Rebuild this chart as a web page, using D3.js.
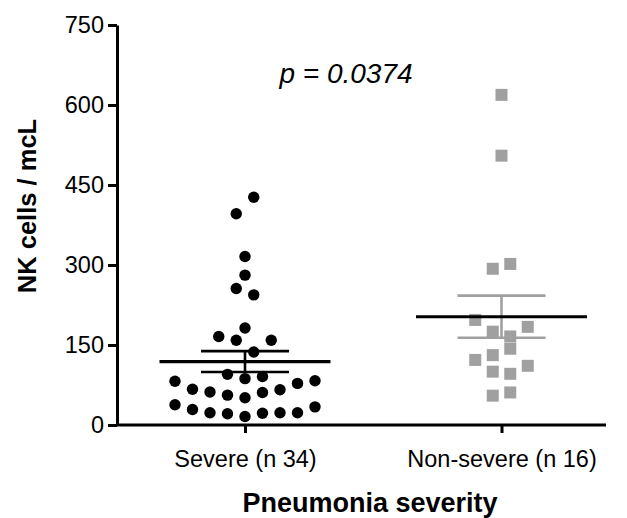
<!DOCTYPE html>
<meta charset="utf-8">
<style>

body {
  margin: 0;
  background: #fff;
}

.axis text {
  font-family: "Liberation Sans", Arial, sans-serif;
  font-size: 23.5px;
  fill: #000;
}

.axis path,
.axis line {
  fill: none;
  stroke: #000;
  stroke-width: 3px;
}

.title {
  font-family: "Liberation Sans", Arial, sans-serif;
  font-weight: bold;
}

</style>
<body>
<script src="https://d3js.org/d3.v7.min.js"></script>
<script>

// groups, in order along the x axis
var groups = ["Severe (n 34)", "Non-severe (n 16)"];

// NK cells / mcL, one value per patient, in entry order
var severe = [16, 21, 22, 23, 23, 29, 23, 38, 34,
              51, 56, 61, 62, 66, 67, 78, 82, 83,
              87, 95, 91,
              137, 159, 159, 166,
              182,
              244, 256,
              281,
              316,
              427, 396];

var nonSevere = [61, 55,
                 96, 100, 111, 122,
                 143, 131,
                 166, 175, 184, 197,
                 302, 293,
                 505,
                 619];

// mean and SEM
var means = [119, 203];
var sems = [19.5, 39.5];

var yTicks = [0, 150, 300, 450, 600, 750];
var pLabel = "p = 0.0374";

var margin = {top: 25, right: 21, bottom: 93, left: 117},
    width = 627 - margin.left - margin.right,
    height = 518 - margin.top - margin.bottom;

var svg = d3.select("body").append("svg")
    .attr("width", 627)
    .attr("height", 518)
  .append("g")
    .attr("transform", "translate(" + margin.left + "," + margin.top + ")");

var x = d3.scalePoint()
    .domain(groups)
    .range([128, 384.5]);

var y = d3.scaleLinear()
    .domain([0, 750])
    .range([height, 0]);

// Prism-style column scatter: points whose values sit within one row height
// share a row and are spread evenly either side of the group centre
var rowGap = 18, slot = 17.5;

function swarm(values) {
  var order = d3.range(values.length).sort(function(a, b) { return values[a] - values[b]; }),
      rows = [], cur = null;
  order.forEach(function(i) {
    if (!cur || y(values[cur[0]]) - y(values[i]) > rowGap) rows.push(cur = []);
    cur.push(i);
  });
  var dx = new Array(values.length);
  rows.forEach(function(r) {
    r.sort(function(a, b) { return a - b; });
    r.forEach(function(i, k) {
      var s;
      if (r.length % 2) s = k === 0 ? 0 : (k % 2 ? -1 : 1) * Math.ceil(k / 2);
      else s = (k % 2 ? -1 : 1) * (Math.floor(k / 2) + 0.5);
      dx[i] = s * slot;
    });
  });
  return values.map(function(v, i) { return {value: v, dx: dx[i]}; });
}

var sev = swarm(severe),
    non = swarm(nonSevere);

svg.append("g").selectAll("circle")
    .data(sev)
  .enter().append("circle")
    .attr("cx", function(d) { return x(groups[0]) + d.dx; })
    .attr("cy", function(d) { return y(d.value); })
    .attr("r", 5.7)
    .attr("fill", "#000");

var sq = 12;
svg.append("g").selectAll("rect")
    .data(non)
  .enter().append("rect")
    .attr("x", function(d) { return x(groups[1]) + d.dx - sq / 2; })
    .attr("y", function(d) { return y(d.value) - sq / 2; })
    .attr("width", sq)
    .attr("height", sq)
    .attr("fill", "#a0a0a0");

// mean line and SEM bars
var barColors = ["#000", "#a0a0a0"];
groups.forEach(function(g, i) {
  var cx = x(g), bars = svg.append("g")
      .attr("stroke", barColors[i])
      .attr("stroke-width", 2.6);
  bars.append("line")
      .attr("x1", cx).attr("x2", cx)
      .attr("y1", y(means[i] + sems[i])).attr("y2", y(means[i] - sems[i]));
  [means[i] + sems[i], means[i] - sems[i]].forEach(function(v) {
    bars.append("line")
        .attr("x1", cx - 44).attr("x2", cx + 44)
        .attr("y1", y(v)).attr("y2", y(v));
  });
  svg.append("line")
      .attr("x1", cx - 85.5).attr("x2", cx + 85.5)
      .attr("y1", y(means[i])).attr("y2", y(means[i]))
      .attr("stroke", "#000")
      .attr("stroke-width", 3.2);
});

svg.append("g")
    .attr("class", "axis axis--y")
    .call(d3.axisLeft(y).tickValues(yTicks).tickSize(9).tickSizeOuter(0).tickPadding(4));

var xAxis = svg.append("g")
    .attr("class", "axis axis--x")
    .attr("transform", "translate(0," + height + ")")
    .call(d3.axisBottom(x).tickSize(8).tickPadding(17));

xAxis.select(".domain").attr("d", "M0,0H" + width);

svg.append("text")
    .attr("class", "title")
    .attr("transform", "translate(-81," + (height / 2 - 19) + ") rotate(-90)")
    .attr("text-anchor", "middle")
    .style("font-size", "25.5px")
    .text("NK cells / mcL");

svg.append("text")
    .attr("class", "title")
    .attr("x", 253)
    .attr("y", height + 87)
    .attr("text-anchor", "middle")
    .style("font-size", "27px")
    .text("Pneumonia severity");

svg.append("text")
    .attr("x", 229)
    .attr("y", 58)
    .attr("text-anchor", "middle")
    .style("font-family", "\"Liberation Sans\", Arial, sans-serif")
    .style("font-style", "italic")
    .style("font-size", "28px")
    .text(pLabel);

</script>
